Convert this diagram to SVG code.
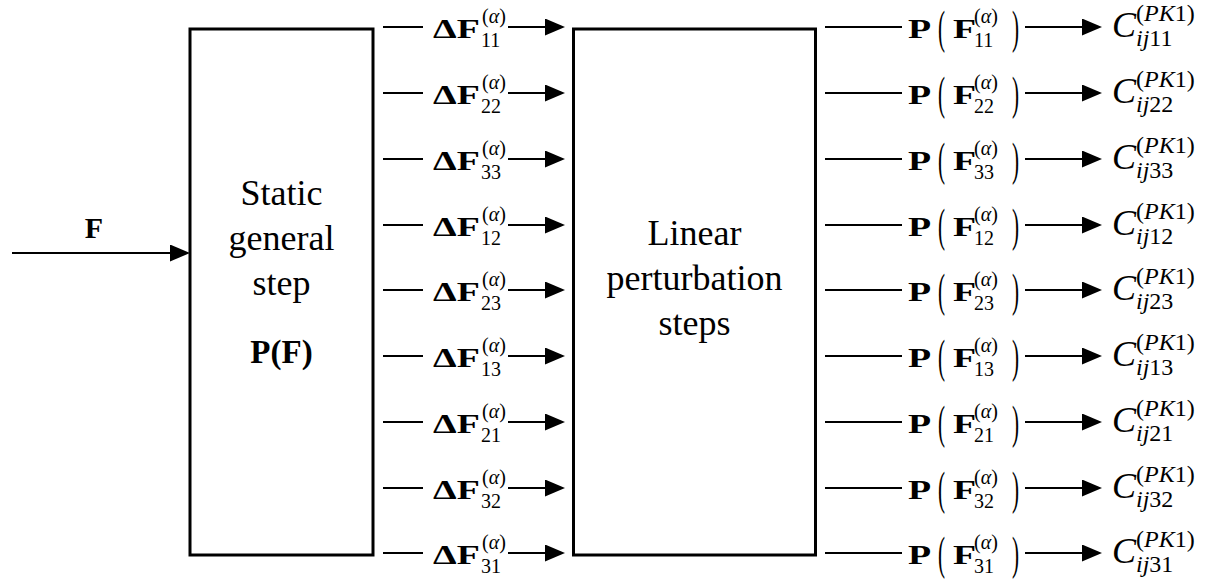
<svg xmlns="http://www.w3.org/2000/svg" width="1212" height="580" viewBox="0 0 1212 580">
<style>
.box{fill:none;stroke:#000;stroke-width:3}
.ln{stroke:#000;stroke-width:2;fill:none}
.arr{marker-end:url(#ah)}
.t{font-family:"Liberation Serif","Times New Roman",serif;fill:#000}
.big{font-size:36px}
.mid{text-anchor:middle}
.mb{font-size:27px;font-weight:bold}
.sc{font-size:20px}
.sc2{font-size:24px}
.par{font-size:47px}
.it{font-style:italic}
.pf{font-size:33px;font-weight:bold}
</style>
<defs>
<marker id="ah" viewBox="0 0 20 17" refX="10" refY="8.5" markerWidth="20" markerHeight="17" markerUnits="userSpaceOnUse" orient="auto"><path d="M0,0L20,8.5L0,17z" fill="#000"/></marker>
</defs>
<rect width="1212" height="580" fill="#fff"/>

<g id="static-step">
<rect class="box" x="190" y="29" width="183" height="526"/>
<text class="t big mid" x="281.5" y="205">Static</text>
<text class="t big mid" x="281.5" y="250">general</text>
<text class="t big mid" x="281.5" y="295">step</text>
<text class="t pf mid" x="281.5" y="363">P(F)</text>
</g>

<g id="perturbation-steps">
<rect class="box" x="573.5" y="29" width="242" height="526"/>
<text class="t big mid" x="694.5" y="245">Linear</text>
<text class="t big mid" x="694.5" y="290">perturbation</text>
<text class="t big mid" x="694.5" y="335">steps</text>
</g>

<g id="input-F">
<text class="t mid" x="94" y="238" style="font-size:30px;font-weight:bold">F</text>
</g>

<g id="connectors">
<line class="ln arr" x1="12" y1="253" x2="180" y2="253"/>
<line class="ln" x1="383" y1="27" x2="423" y2="27"/><line class="ln arr" x1="508" y1="27" x2="555" y2="27"/>
<line class="ln" x1="383" y1="93" x2="423" y2="93"/><line class="ln arr" x1="508" y1="93" x2="555" y2="93"/>
<line class="ln" x1="383" y1="159" x2="423" y2="159"/><line class="ln arr" x1="508" y1="159" x2="555" y2="159"/>
<line class="ln" x1="383" y1="225" x2="423" y2="225"/><line class="ln arr" x1="508" y1="225" x2="555" y2="225"/>
<line class="ln" x1="383" y1="290" x2="423" y2="290"/><line class="ln arr" x1="508" y1="290" x2="555" y2="290"/>
<line class="ln" x1="383" y1="356" x2="423" y2="356"/><line class="ln arr" x1="508" y1="356" x2="555" y2="356"/>
<line class="ln" x1="383" y1="422" x2="423" y2="422"/><line class="ln arr" x1="508" y1="422" x2="555" y2="422"/>
<line class="ln" x1="383" y1="488" x2="423" y2="488"/><line class="ln arr" x1="508" y1="488" x2="555" y2="488"/>
<line class="ln" x1="383" y1="553" x2="423" y2="553"/><line class="ln arr" x1="508" y1="553" x2="555" y2="553"/>

<line class="ln" x1="825" y1="27" x2="902" y2="27"/><line class="ln arr" x1="1025" y1="27" x2="1092" y2="27"/>
<line class="ln" x1="825" y1="93" x2="902" y2="93"/><line class="ln arr" x1="1025" y1="93" x2="1092" y2="93"/>
<line class="ln" x1="825" y1="159" x2="902" y2="159"/><line class="ln arr" x1="1025" y1="159" x2="1092" y2="159"/>
<line class="ln" x1="825" y1="225" x2="902" y2="225"/><line class="ln arr" x1="1025" y1="225" x2="1092" y2="225"/>
<line class="ln" x1="825" y1="290" x2="902" y2="290"/><line class="ln arr" x1="1025" y1="290" x2="1092" y2="290"/>
<line class="ln" x1="825" y1="356" x2="902" y2="356"/><line class="ln arr" x1="1025" y1="356" x2="1092" y2="356"/>
<line class="ln" x1="825" y1="422" x2="902" y2="422"/><line class="ln arr" x1="1025" y1="422" x2="1092" y2="422"/>
<line class="ln" x1="825" y1="488" x2="902" y2="488"/><line class="ln arr" x1="1025" y1="488" x2="1092" y2="488"/>
<line class="ln" x1="825" y1="553" x2="902" y2="553"/><line class="ln arr" x1="1025" y1="553" x2="1092" y2="553"/>
</g>

<g id="dF-labels">
<g id="dF11" transform="translate(433,27)"><text class="t mb" transform="scale(1.4,1)" y="11">ΔF</text><text class="t sc" x="49" y="-4">(<tspan class="it">α</tspan>)</text><text class="t sc" x="48" y="20">11</text></g>
<g id="dF22" transform="translate(433,93)"><text class="t mb" transform="scale(1.4,1)" y="11">ΔF</text><text class="t sc" x="49" y="-4">(<tspan class="it">α</tspan>)</text><text class="t sc" x="48" y="20">22</text></g>
<g id="dF33" transform="translate(433,159)"><text class="t mb" transform="scale(1.4,1)" y="11">ΔF</text><text class="t sc" x="49" y="-4">(<tspan class="it">α</tspan>)</text><text class="t sc" x="48" y="20">33</text></g>
<g id="dF12" transform="translate(433,225)"><text class="t mb" transform="scale(1.4,1)" y="11">ΔF</text><text class="t sc" x="49" y="-4">(<tspan class="it">α</tspan>)</text><text class="t sc" x="48" y="20">12</text></g>
<g id="dF23" transform="translate(433,290)"><text class="t mb" transform="scale(1.4,1)" y="11">ΔF</text><text class="t sc" x="49" y="-4">(<tspan class="it">α</tspan>)</text><text class="t sc" x="48" y="20">23</text></g>
<g id="dF13" transform="translate(433,356)"><text class="t mb" transform="scale(1.4,1)" y="11">ΔF</text><text class="t sc" x="49" y="-4">(<tspan class="it">α</tspan>)</text><text class="t sc" x="48" y="20">13</text></g>
<g id="dF21" transform="translate(433,422)"><text class="t mb" transform="scale(1.4,1)" y="11">ΔF</text><text class="t sc" x="49" y="-4">(<tspan class="it">α</tspan>)</text><text class="t sc" x="48" y="20">21</text></g>
<g id="dF32" transform="translate(433,488)"><text class="t mb" transform="scale(1.4,1)" y="11">ΔF</text><text class="t sc" x="49" y="-4">(<tspan class="it">α</tspan>)</text><text class="t sc" x="48" y="20">32</text></g>
<g id="dF31" transform="translate(433,553)"><text class="t mb" transform="scale(1.4,1)" y="11">ΔF</text><text class="t sc" x="49" y="-4">(<tspan class="it">α</tspan>)</text><text class="t sc" x="48" y="20">31</text></g>
</g>

<g id="P-labels">
<g id="P11" transform="translate(908,27)"><text class="t mb" transform="scale(1.4,1)" y="11">P</text><text class="t par" transform="translate(30,15.5) scale(0.45,1)">(</text><text class="t mb" transform="translate(45,11) scale(1.4,1)">F</text><text class="t sc" x="66" y="-4">(<tspan class="it">α</tspan>)</text><text class="t sc" x="66" y="20">11</text><text class="t par" transform="translate(104,15.5) scale(0.45,1)">)</text></g>
<g id="P22" transform="translate(908,93)"><text class="t mb" transform="scale(1.4,1)" y="11">P</text><text class="t par" transform="translate(30,15.5) scale(0.45,1)">(</text><text class="t mb" transform="translate(45,11) scale(1.4,1)">F</text><text class="t sc" x="66" y="-4">(<tspan class="it">α</tspan>)</text><text class="t sc" x="66" y="20">22</text><text class="t par" transform="translate(104,15.5) scale(0.45,1)">)</text></g>
<g id="P33" transform="translate(908,159)"><text class="t mb" transform="scale(1.4,1)" y="11">P</text><text class="t par" transform="translate(30,15.5) scale(0.45,1)">(</text><text class="t mb" transform="translate(45,11) scale(1.4,1)">F</text><text class="t sc" x="66" y="-4">(<tspan class="it">α</tspan>)</text><text class="t sc" x="66" y="20">33</text><text class="t par" transform="translate(104,15.5) scale(0.45,1)">)</text></g>
<g id="P12" transform="translate(908,225)"><text class="t mb" transform="scale(1.4,1)" y="11">P</text><text class="t par" transform="translate(30,15.5) scale(0.45,1)">(</text><text class="t mb" transform="translate(45,11) scale(1.4,1)">F</text><text class="t sc" x="66" y="-4">(<tspan class="it">α</tspan>)</text><text class="t sc" x="66" y="20">12</text><text class="t par" transform="translate(104,15.5) scale(0.45,1)">)</text></g>
<g id="P23" transform="translate(908,290)"><text class="t mb" transform="scale(1.4,1)" y="11">P</text><text class="t par" transform="translate(30,15.5) scale(0.45,1)">(</text><text class="t mb" transform="translate(45,11) scale(1.4,1)">F</text><text class="t sc" x="66" y="-4">(<tspan class="it">α</tspan>)</text><text class="t sc" x="66" y="20">23</text><text class="t par" transform="translate(104,15.5) scale(0.45,1)">)</text></g>
<g id="P13" transform="translate(908,356)"><text class="t mb" transform="scale(1.4,1)" y="11">P</text><text class="t par" transform="translate(30,15.5) scale(0.45,1)">(</text><text class="t mb" transform="translate(45,11) scale(1.4,1)">F</text><text class="t sc" x="66" y="-4">(<tspan class="it">α</tspan>)</text><text class="t sc" x="66" y="20">13</text><text class="t par" transform="translate(104,15.5) scale(0.45,1)">)</text></g>
<g id="P21" transform="translate(908,422)"><text class="t mb" transform="scale(1.4,1)" y="11">P</text><text class="t par" transform="translate(30,15.5) scale(0.45,1)">(</text><text class="t mb" transform="translate(45,11) scale(1.4,1)">F</text><text class="t sc" x="66" y="-4">(<tspan class="it">α</tspan>)</text><text class="t sc" x="66" y="20">21</text><text class="t par" transform="translate(104,15.5) scale(0.45,1)">)</text></g>
<g id="P32" transform="translate(908,488)"><text class="t mb" transform="scale(1.4,1)" y="11">P</text><text class="t par" transform="translate(30,15.5) scale(0.45,1)">(</text><text class="t mb" transform="translate(45,11) scale(1.4,1)">F</text><text class="t sc" x="66" y="-4">(<tspan class="it">α</tspan>)</text><text class="t sc" x="66" y="20">32</text><text class="t par" transform="translate(104,15.5) scale(0.45,1)">)</text></g>
<g id="P31" transform="translate(908,553)"><text class="t mb" transform="scale(1.4,1)" y="11">P</text><text class="t par" transform="translate(30,15.5) scale(0.45,1)">(</text><text class="t mb" transform="translate(45,11) scale(1.4,1)">F</text><text class="t sc" x="66" y="-4">(<tspan class="it">α</tspan>)</text><text class="t sc" x="66" y="20">31</text><text class="t par" transform="translate(104,15.5) scale(0.45,1)">)</text></g>
</g>

<g id="C-outputs">
<g id="C11" transform="translate(1112,27)"><text class="t big it" y="10">C</text><text class="t sc2" x="24" y="-6">(<tspan class="it">PK</tspan>1)</text><text class="t sc2" x="24" y="19"><tspan class="it">ij</tspan>11</text></g>
<g id="C22" transform="translate(1112,93)"><text class="t big it" y="10">C</text><text class="t sc2" x="24" y="-6">(<tspan class="it">PK</tspan>1)</text><text class="t sc2" x="24" y="19"><tspan class="it">ij</tspan>22</text></g>
<g id="C33" transform="translate(1112,159)"><text class="t big it" y="10">C</text><text class="t sc2" x="24" y="-6">(<tspan class="it">PK</tspan>1)</text><text class="t sc2" x="24" y="19"><tspan class="it">ij</tspan>33</text></g>
<g id="C12" transform="translate(1112,225)"><text class="t big it" y="10">C</text><text class="t sc2" x="24" y="-6">(<tspan class="it">PK</tspan>1)</text><text class="t sc2" x="24" y="19"><tspan class="it">ij</tspan>12</text></g>
<g id="C23" transform="translate(1112,290)"><text class="t big it" y="10">C</text><text class="t sc2" x="24" y="-6">(<tspan class="it">PK</tspan>1)</text><text class="t sc2" x="24" y="19"><tspan class="it">ij</tspan>23</text></g>
<g id="C13" transform="translate(1112,356)"><text class="t big it" y="10">C</text><text class="t sc2" x="24" y="-6">(<tspan class="it">PK</tspan>1)</text><text class="t sc2" x="24" y="19"><tspan class="it">ij</tspan>13</text></g>
<g id="C21" transform="translate(1112,422)"><text class="t big it" y="10">C</text><text class="t sc2" x="24" y="-6">(<tspan class="it">PK</tspan>1)</text><text class="t sc2" x="24" y="19"><tspan class="it">ij</tspan>21</text></g>
<g id="C32" transform="translate(1112,488)"><text class="t big it" y="10">C</text><text class="t sc2" x="24" y="-6">(<tspan class="it">PK</tspan>1)</text><text class="t sc2" x="24" y="19"><tspan class="it">ij</tspan>32</text></g>
<g id="C31" transform="translate(1112,553)"><text class="t big it" y="10">C</text><text class="t sc2" x="24" y="-6">(<tspan class="it">PK</tspan>1)</text><text class="t sc2" x="24" y="19"><tspan class="it">ij</tspan>31</text></g>
</g>
</svg>
